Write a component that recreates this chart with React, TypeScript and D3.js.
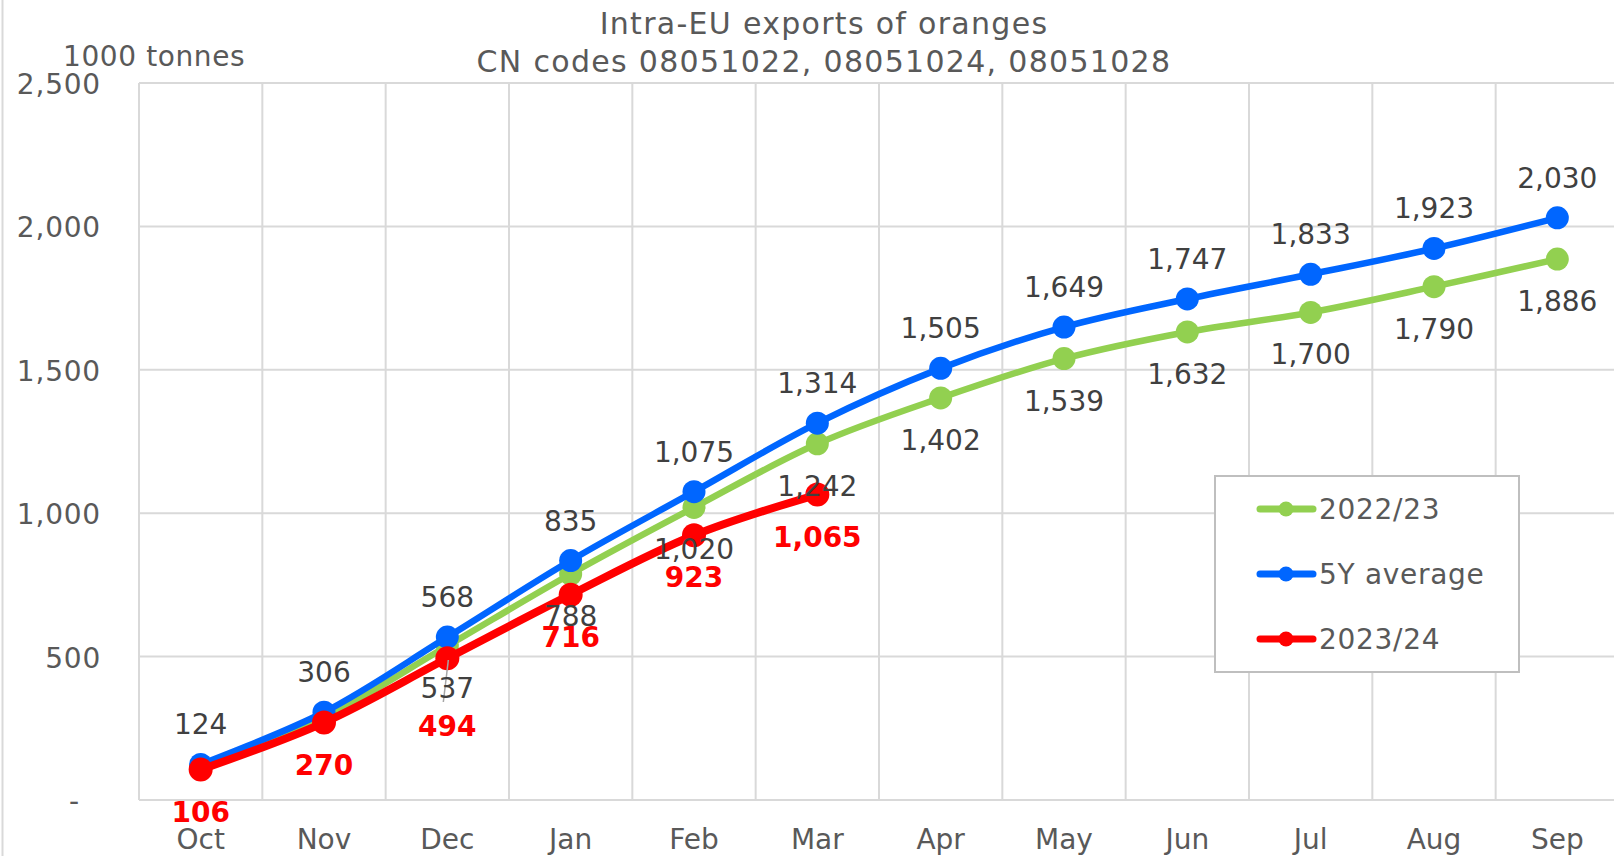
import { useEffect } from "react";
import * as d3 from "d3";

// chart data
const months = ["Oct", "Nov", "Dec", "Jan", "Feb", "Mar", "Apr", "May", "Jun", "Jul", "Aug", "Sep"];
const yTicks = [0, 500, 1000, 1500, 2000, 2500];
const season2223 = [113, 288, 537, 788, 1020, 1242, 1402, 1539, 1632, 1700, 1790, 1886];
const avg5y = [124, 306, 568, 835, 1075, 1314, 1505, 1649, 1747, 1833, 1923, 2030];
const season2324 = [106, 270, 494, 716, 923, 1065];

// labels that are not shown for 2022/23 (hidden in the original)
const hidden2223 = ["Oct", "Nov"];

const WIDTH = 1614;
const HEIGHT = 856;
const FONT = "'DejaVu Sans', Verdana, sans-serif";
const GREEN = "#92d050";
const BLUE = "#0066ff";
const RED = "#ff0000";
const GRID = "#d9d9d9";
const TEXT = "#595959";
const LABEL = "#404040";

const margin = { left: 139, right: -5, top: 83, bottom: 56 };

export default function App() {
  useEffect(() => {
    document.body.style.margin = "0";
  }, []);

  const x = d3
    .scaleBand()
    .domain(months)
    .range([margin.left, WIDTH - margin.right]);
  const y = d3
    .scaleLinear()
    .domain([0, 2500])
    .range([HEIGHT - margin.bottom, margin.top]);
  const cx = (m: string) => (x(m) ?? 0) + x.bandwidth() / 2;

  const line = d3
    .line<number>()
    .x((_, i) => cx(months[i]))
    .y((d) => y(d))
    .curve(d3.curveCatmullRom.alpha(0.5));

  const fmt = d3.format(",d");
  const x0 = margin.left;
  const x1 = WIDTH - margin.right;

  // little nudges like the ones done by hand in the spreadsheet
  const redNudge: Record<string, number> = { Dec: 26 };

  const series = [
    { name: "2022/23", color: GREEN, data: season2223, width: 6.5, r: 11.5 },
    { name: "5Y average", color: BLUE, data: avg5y, width: 6.5, r: 11.5 },
    { name: "2023/24", color: RED, data: season2324, width: 8, r: 12 },
  ];

  const legendY = [509, 574, 639];

  return (
    <svg width={WIDTH} height={HEIGHT} style={{ display: "block", fontFamily: FONT }}>
      <rect width={WIDTH} height={HEIGHT} fill="#fff" />
      <line x1={2.5} x2={2.5} y1={0} y2={HEIGHT} stroke={GRID} strokeWidth={2} />

      {/* grid */}
      {yTicks.map((t) => (
        <line key={"h" + t} x1={x0} x2={x1} y1={y(t)} y2={y(t)} stroke={GRID} strokeWidth={2} />
      ))}
      {months.map((m) => (
        <line
          key={"v" + m}
          x1={x(m)!}
          x2={x(m)!}
          y1={y(2500)}
          y2={y(0)}
          stroke={GRID}
          strokeWidth={2}
        />
      ))}

      {/* y axis labels */}
      {yTicks.map((t) => (
        <text
          key={"yt" + t}
          x={t === 0 ? 80 : 101}
          y={y(t) + 11}
          textAnchor="end"
          fontSize={28}
          letterSpacing={0.8}
          fill={TEXT}
        >
          {t === 0 ? "-" : fmt(t)}
        </text>
      ))}
      {/* x axis labels */}
      {months.map((m) => (
        <text key={"xt" + m} x={cx(m)} y={849} textAnchor="middle" fontSize={28} fill={TEXT}>
          {m}
        </text>
      ))}

      {/* titles */}
      <text x={824} y={34} textAnchor="middle" fontSize={30} letterSpacing={1.3} fill={TEXT}>
        Intra-EU exports of oranges
      </text>
      <text x={824} y={72} textAnchor="middle" fontSize={30} letterSpacing={1.3} fill={TEXT}>
        CN codes 08051022, 08051024, 08051028
      </text>
      <text x={63} y={66} fontSize={28} letterSpacing={0.6} fill={TEXT}>
        1000 tonnes
      </text>

      {/* lines + markers */}
      {series.map((s) => (
        <g key={s.name}>
          <path
            d={line(s.data) ?? ""}
            fill="none"
            stroke={s.color}
            strokeWidth={s.width}
            strokeLinejoin="round"
            strokeLinecap="round"
          />
          {s.data.map((v, i) => (
            <circle key={i} cx={cx(months[i])} cy={y(v)} r={s.r} fill={s.color} />
          ))}
        </g>
      ))}

      {/* leader line for the moved Dec label */}
      <line
        x1={cx("Dec") + 1}
        y1={y(season2223[2]) + 14}
        x2={cx("Dec") - 4}
        y2={y(season2223[2]) + 56}
        stroke="#a6a6a6"
        strokeWidth={1.5}
      />

      {/* data labels */}
      {season2223.map((v, i) =>
        hidden2223.includes(months[i]) ? null : (
          <text
            key={"g" + i}
            x={cx(months[i])}
            y={y(v) + 52}
            textAnchor="middle"
            fontSize={28}
            fill={LABEL}
          >
            {fmt(v)}
          </text>
        )
      )}
      {avg5y.map((v, i) => (
        <text
          key={"b" + i}
          x={cx(months[i])}
          y={y(v) - 30}
          textAnchor="middle"
          fontSize={28}
          fill={LABEL}
        >
          {fmt(v)}
        </text>
      ))}
      {season2324.map((v, i) => (
        <text
          key={"r" + i}
          x={cx(months[i])}
          y={y(v) + 52 + (redNudge[months[i]] ?? 0)}
          textAnchor="middle"
          fontSize={28}
          fontWeight="bold"
          fill={RED}
        >
          {fmt(v)}
        </text>
      ))}

      {/* legend */}
      <rect x={1215} y={476} width={304} height={196} fill="#fff" stroke="#bfbfbf" strokeWidth={2} />
      {series.map((s, i) => (
        <g key={"lg" + s.name}>
          <line
            x1={1260}
            x2={1313}
            y1={legendY[i]}
            y2={legendY[i]}
            stroke={s.color}
            strokeWidth={7}
            strokeLinecap="round"
          />
          <circle cx={1286} cy={legendY[i]} r={7.5} fill={s.color} />
          <text x={1319} y={legendY[i] + 10} fontSize={28} letterSpacing={0.7} fill={TEXT}>
            {s.name}
          </text>
        </g>
      ))}
    </svg>
  );
}
